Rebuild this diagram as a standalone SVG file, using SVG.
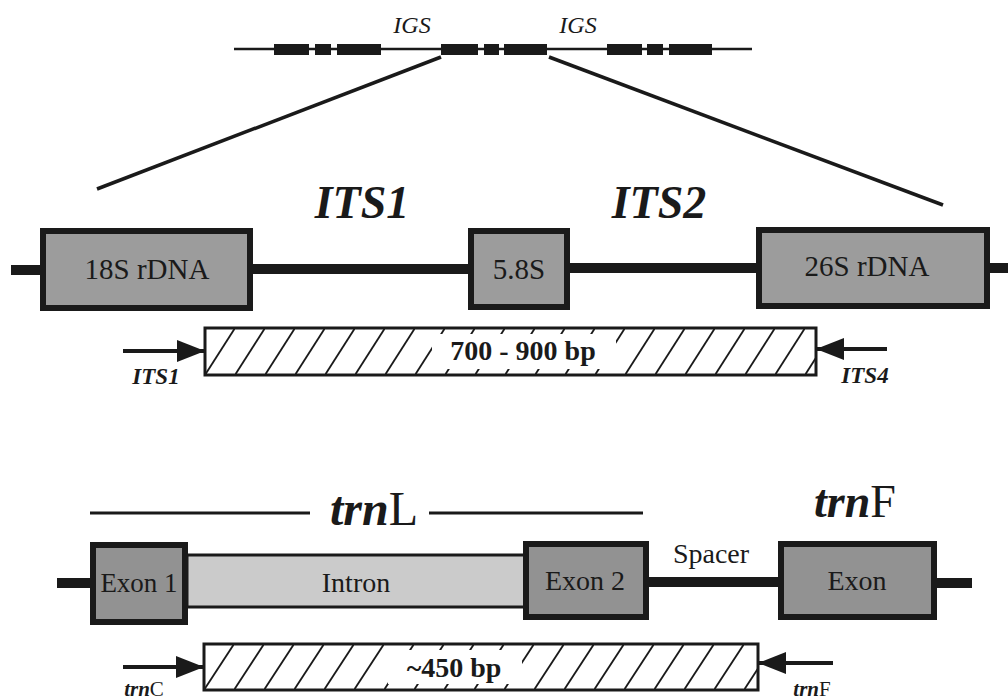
<svg xmlns="http://www.w3.org/2000/svg" width="1008" height="699" viewBox="0 0 1008 699">
<style>
.t{font-family:"Liberation Serif","DejaVu Serif",serif;fill:#1a1a1a}
.bi{font-weight:bold;font-style:italic}
.ln{stroke:#1a1a1a;fill:none}
.box{fill:#9c9c9c;stroke:#1a1a1a;stroke-width:6}
.exon{fill:#929292;stroke:#1a1a1a;stroke-width:6}
</style>
<defs>
<pattern id="h1" patternUnits="userSpaceOnUse" x="205" y="328" width="30" height="47">
<line x1="0" y1="47" x2="30" y2="0" stroke="#1a1a1a" stroke-width="1.8"/>
</pattern>
<pattern id="h2" patternUnits="userSpaceOnUse" x="204" y="644" width="30" height="46">
<line x1="0" y1="46" x2="30" y2="0" stroke="#1a1a1a" stroke-width="1.8"/>
</pattern>
<marker id="ah" viewBox="0 0 10 10" refX="10" refY="5" markerWidth="7" markerHeight="5.5" markerUnits="strokeWidth" orient="auto" preserveAspectRatio="none">
<path d="M0,0 L10,5 L0,10 Z" fill="#1a1a1a"/>
</marker>
</defs>

<g id="overview">
<line class="ln" x1="234" y1="49" x2="752" y2="49" stroke-width="2.5"/>
<g fill="#1a1a1a">
<rect x="274" y="44" width="35" height="11"/>
<rect x="315" y="44" width="16" height="11"/>
<rect x="337" y="44" width="44" height="11"/>
<rect x="441" y="44" width="37" height="11"/>
<rect x="484" y="44" width="15" height="11"/>
<rect x="504" y="44" width="43" height="11"/>
<rect x="607" y="44" width="35" height="11"/>
<rect x="647" y="44" width="16" height="11"/>
<rect x="669" y="44" width="43" height="11"/>
</g>
<text class="t" x="412" y="33" font-size="24" font-style="italic" text-anchor="middle">IGS</text>
<text class="t" x="578" y="33" font-size="24" font-style="italic" text-anchor="middle">IGS</text>
</g>

<g id="connectors">
<line class="ln" x1="441" y1="57" x2="97" y2="189" stroke-width="3.5"/>
<line class="ln" x1="549" y1="57" x2="943" y2="205" stroke-width="3.5"/>
<line class="ln" x1="11" y1="270" x2="40" y2="270" stroke-width="10"/>
<line class="ln" x1="253" y1="269" x2="470" y2="269" stroke-width="10"/>
<line class="ln" x1="570" y1="268" x2="757" y2="268" stroke-width="10"/>
<line class="ln" x1="990" y1="268" x2="1008" y2="268" stroke-width="10"/>
<line class="ln" x1="123" y1="351" x2="205" y2="351" stroke-width="4" marker-end="url(#ah)"/>
<line class="ln" x1="887" y1="349" x2="816" y2="349" stroke-width="4" marker-end="url(#ah)"/>
<line class="ln" x1="57" y1="583" x2="91" y2="583" stroke-width="10"/>
<line class="ln" x1="649" y1="582" x2="779" y2="582" stroke-width="10"/>
<line class="ln" x1="937" y1="583" x2="972" y2="583" stroke-width="10"/>
<line class="ln" x1="123" y1="667" x2="204" y2="667" stroke-width="4" marker-end="url(#ah)"/>
<line class="ln" x1="833" y1="663" x2="758" y2="663" stroke-width="4" marker-end="url(#ah)"/>
<line class="ln" x1="90" y1="513" x2="310" y2="513" stroke-width="3"/>
<line class="ln" x1="429" y1="513" x2="643" y2="513" stroke-width="3"/>
</g>

<text class="t bi" x="362" y="218" font-size="46" text-anchor="middle">ITS1</text>
<text class="t bi" x="659" y="218" font-size="46" text-anchor="middle">ITS2</text>

<g id="n18S">
<rect class="box" x="43" y="231" width="207" height="77"/>
<text class="t" x="147" y="279" font-size="29" text-anchor="middle">18S rDNA</text>
</g>
<g id="n58S">
<rect class="box" x="471" y="231" width="96" height="76"/>
<text class="t" x="519" y="279" font-size="29" text-anchor="middle">5.8S</text>
</g>
<g id="n26S">
<rect class="box" x="759" y="230" width="228" height="76"/>
<text class="t" x="867" y="276" font-size="29" text-anchor="middle">26S rDNA</text>
</g>

<g id="itsAmplicon">
<rect x="205" y="328" width="611" height="47" fill="#fff"/>
<rect x="205" y="328" width="611" height="47" fill="url(#h1)"/>
<rect x="432" y="334" width="184" height="35" fill="#fff"/>
<rect x="205" y="328" width="611" height="47" fill="none" stroke="#1a1a1a" stroke-width="3"/>
<text class="t" x="523" y="360" font-size="28" font-weight="bold" text-anchor="middle">700 - 900 bp</text>
</g>
<text class="t bi" x="156" y="384" font-size="23" text-anchor="middle">ITS1</text>
<text class="t bi" x="865" y="383" font-size="23" text-anchor="middle">ITS4</text>

<text class="t" x="374" y="525" font-size="48" text-anchor="middle"><tspan font-weight="bold" font-style="italic">trn</tspan>L</text>
<text class="t" x="855" y="517" font-size="46" text-anchor="middle"><tspan font-weight="bold" font-style="italic">trn</tspan>F</text>

<g id="intron">
<rect x="187" y="555" width="338" height="52" fill="#cbcbcb" stroke="#1a1a1a" stroke-width="3"/>
<text class="t" x="356" y="592" font-size="28" text-anchor="middle">Intron</text>
</g>
<g id="exon1">
<rect class="exon" x="93" y="545" width="92" height="77"/>
<text class="t" x="139" y="592" font-size="27" text-anchor="middle">Exon 1</text>
</g>
<g id="exon2">
<rect class="exon" x="526" y="544" width="120" height="73"/>
<text class="t" x="585" y="590" font-size="28" text-anchor="middle">Exon 2</text>
</g>
<g id="trnFexon">
<rect class="exon" x="781" y="544" width="153" height="73"/>
<text class="t" x="857" y="590" font-size="28" text-anchor="middle">Exon</text>
</g>
<text class="t" x="711" y="563" font-size="28" text-anchor="middle">Spacer</text>

<g id="trnAmplicon">
<rect x="204" y="644" width="554" height="46" fill="#fff"/>
<rect x="204" y="644" width="554" height="46" fill="url(#h2)"/>
<rect x="388" y="650" width="134" height="34" fill="#fff"/>
<rect x="204" y="644" width="554" height="46" fill="none" stroke="#1a1a1a" stroke-width="3"/>
<text class="t" x="454" y="677" font-size="28" font-weight="bold" text-anchor="middle">~450 bp</text>
</g>
<text class="t" x="144" y="696" font-size="21" text-anchor="middle"><tspan font-style="italic" font-weight="bold">trn</tspan>C</text>
<text class="t" x="812" y="696" font-size="21" text-anchor="middle"><tspan font-style="italic" font-weight="bold">trn</tspan>F</text>
</svg>
